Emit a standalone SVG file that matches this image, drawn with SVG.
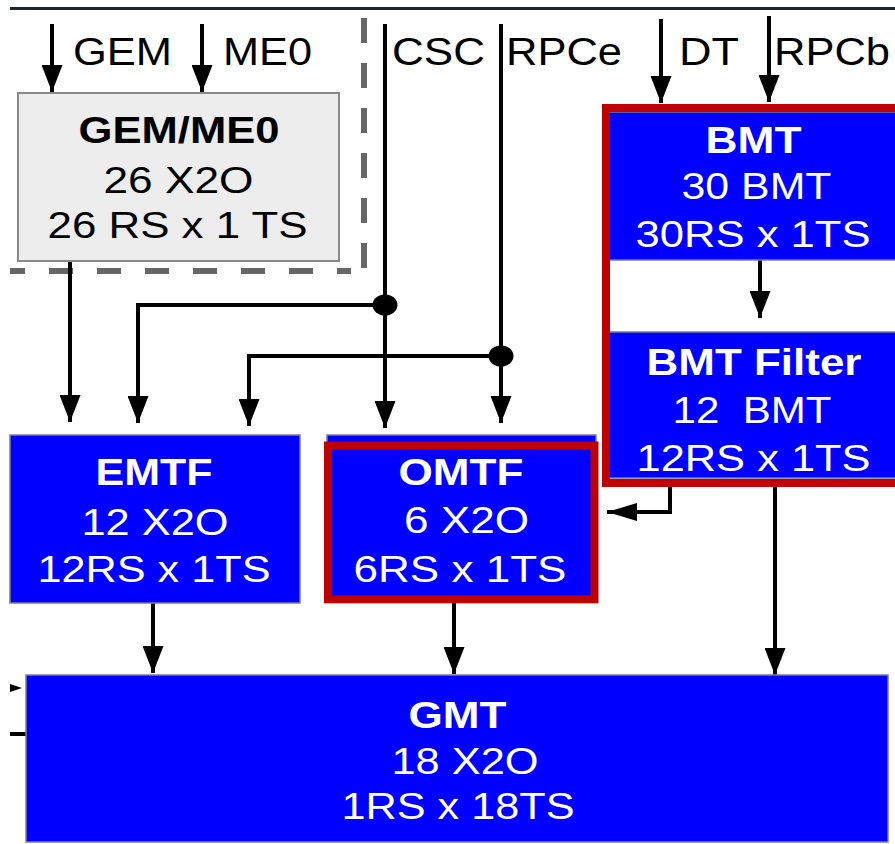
<svg xmlns="http://www.w3.org/2000/svg" width="895" height="844" viewBox="0 0 895 844">
<defs>
<style>
.lbl{font-family:"Liberation Sans",Arial,sans-serif;font-size:39px;fill:#000}
.t{font-family:"Liberation Sans",Arial,sans-serif;font-size:37px;fill:#fff;text-anchor:middle}
.b{font-weight:bold}
.dk{fill:#000}
.conn{stroke:#000;stroke-width:4;fill:none}
.blue{fill:#0000fe;stroke:#7c7c98;stroke-width:1.5}
.red{fill:none;stroke:#c00000;stroke-width:8}
.dash{stroke:#666;stroke-width:6;fill:none}
</style>
<marker id="arr" markerUnits="userSpaceOnUse" markerWidth="27" markerHeight="21" viewBox="0 0 27 21" refX="27" refY="10.5" orient="auto">
<path d="M0,0 L27,10.5 L0,21 Z" fill="#000"/>
</marker>
<marker id="arrH" markerUnits="userSpaceOnUse" markerWidth="30" markerHeight="18" viewBox="0 0 30 18" refX="30" refY="9" orient="auto">
<path d="M0,0 L30,9 L0,18 Z" fill="#000"/>
</marker>
</defs>
<rect width="895" height="844" fill="#fff"/>
<line x1="10" y1="8.5" x2="895" y2="8.5" stroke="#1c2431" stroke-width="3"/>
<g id="boundary">
<line class="dash" x1="364" y1="18" x2="364" y2="268" stroke-dasharray="25 20"/>
<line class="dash" x1="10" y1="271" x2="351" y2="271" stroke-dasharray="24 24" stroke-dashoffset="9"/>
</g>
<g id="inputs">
<text class="lbl" x="73" y="65" textLength="99" lengthAdjust="spacingAndGlyphs">GEM</text>
<text class="lbl" x="223" y="65" textLength="89" lengthAdjust="spacingAndGlyphs">ME0</text>
<text class="lbl" x="392" y="65" textLength="93" lengthAdjust="spacingAndGlyphs">CSC</text>
<text class="lbl" x="506" y="65" textLength="116" lengthAdjust="spacingAndGlyphs">RPCe</text>
<text class="lbl" x="679" y="65" textLength="60" lengthAdjust="spacingAndGlyphs">DT</text>
<text class="lbl" x="774" y="65" textLength="116" lengthAdjust="spacingAndGlyphs">RPCb</text>
</g>
<g id="connectors">
<path class="conn" d="M52,24 V92" marker-end="url(#arr)"/>
<path class="conn" d="M202,24 V92" marker-end="url(#arr)"/>
<path class="conn" d="M385,24 V428" marker-end="url(#arr)"/>
<path class="conn" d="M385,305 H138 V423" marker-end="url(#arr)" stroke-width="3.5"/>
<path class="conn" d="M501,24 V423" marker-end="url(#arr)"/>
<path class="conn" d="M501,356 H249 V426" marker-end="url(#arr)" stroke-width="3.5"/>
<path class="conn" d="M70,261 V422" marker-end="url(#arr)"/>
<path class="conn" d="M661,19 V103" marker-end="url(#arr)"/>
<path class="conn" d="M769,16 V102" marker-end="url(#arr)"/>
<path class="conn" d="M760,260 V318" marker-end="url(#arr)"/>
<path class="conn" d="M670,487 V512 H607" marker-end="url(#arrH)" stroke-width="3.5"/>
<path class="conn" d="M775,487 V675" marker-end="url(#arr)"/>
<path class="conn" d="M153,603 V673" marker-end="url(#arr)"/>
<path class="conn" d="M454,603 V674" marker-end="url(#arr)"/>
<path d="M10,684 L22,688 L10,692 Z" fill="#000"/>
<line class="conn" x1="10" y1="734" x2="27" y2="734" stroke-width="3"/>
<ellipse cx="385" cy="305" rx="12.5" ry="10.5" fill="#000"/>
<ellipse cx="501" cy="356" rx="12.5" ry="10.5" fill="#000"/>
</g>
<g id="gem-me0">
<rect x="18" y="93" width="321" height="168" fill="#ededed" stroke="#8a8a8a" stroke-width="2"/>
<text class="t b dk" x="179" y="143" textLength="201" lengthAdjust="spacingAndGlyphs">GEM/ME0</text>
<text class="t dk" x="178.5" y="193" textLength="150" lengthAdjust="spacingAndGlyphs">26 X2O</text>
<text class="t dk" x="177.5" y="238" textLength="260" lengthAdjust="spacingAndGlyphs">26 RS x 1 TS</text>
</g>
<g id="bmt">
<rect class="blue" x="609" y="112" width="300" height="148"/>
<text class="t b" x="753.5" y="153" textLength="96" lengthAdjust="spacingAndGlyphs">BMT</text>
<text class="t" x="756.5" y="199" textLength="150" lengthAdjust="spacingAndGlyphs">30 BMT</text>
<text class="t" x="753" y="247" textLength="235" lengthAdjust="spacingAndGlyphs">30RS x 1TS</text>
</g>
<g id="bmt-filter">
<rect class="blue" x="609" y="332" width="300" height="146"/>
<text class="t b" x="754" y="375" textLength="215" lengthAdjust="spacingAndGlyphs">BMT Filter</text>
<text class="t" x="752" y="423" textLength="159" lengthAdjust="spacingAndGlyphs" xml:space="preserve">12  BMT</text>
<text class="t" x="753.5" y="471" textLength="234" lengthAdjust="spacingAndGlyphs">12RS x 1TS</text>
</g>
<rect id="barrel-frame" class="red" x="606" y="108" width="300" height="375"/>
<g id="emtf">
<rect class="blue" x="10" y="435" width="290" height="168"/>
<text class="t b" x="154" y="485" textLength="117" lengthAdjust="spacingAndGlyphs">EMTF</text>
<text class="t" x="155" y="535" textLength="147" lengthAdjust="spacingAndGlyphs">12 X2O</text>
<text class="t" x="154" y="582" textLength="233" lengthAdjust="spacingAndGlyphs">12RS x 1TS</text>
</g>
<g id="omtf">
<rect class="blue" x="327" y="435" width="269" height="166"/>
<rect class="red" x="328" y="445.5" width="266.5" height="153.8"/>
<text class="t b" x="461" y="485" textLength="125" lengthAdjust="spacingAndGlyphs">OMTF</text>
<text class="t" x="466.5" y="533" textLength="125" lengthAdjust="spacingAndGlyphs">6 X2O</text>
<text class="t" x="460" y="582" textLength="213" lengthAdjust="spacingAndGlyphs">6RS x 1TS</text>
</g>
<g id="gmt">
<rect class="blue" x="26" y="675" width="862" height="167"/>
<text class="t b" x="457.5" y="728" textLength="98" lengthAdjust="spacingAndGlyphs">GMT</text>
<text class="t" x="465" y="774" textLength="147" lengthAdjust="spacingAndGlyphs">18 X2O</text>
<text class="t" x="458" y="819" textLength="233" lengthAdjust="spacingAndGlyphs">1RS x 18TS</text>
</g>
</svg>
